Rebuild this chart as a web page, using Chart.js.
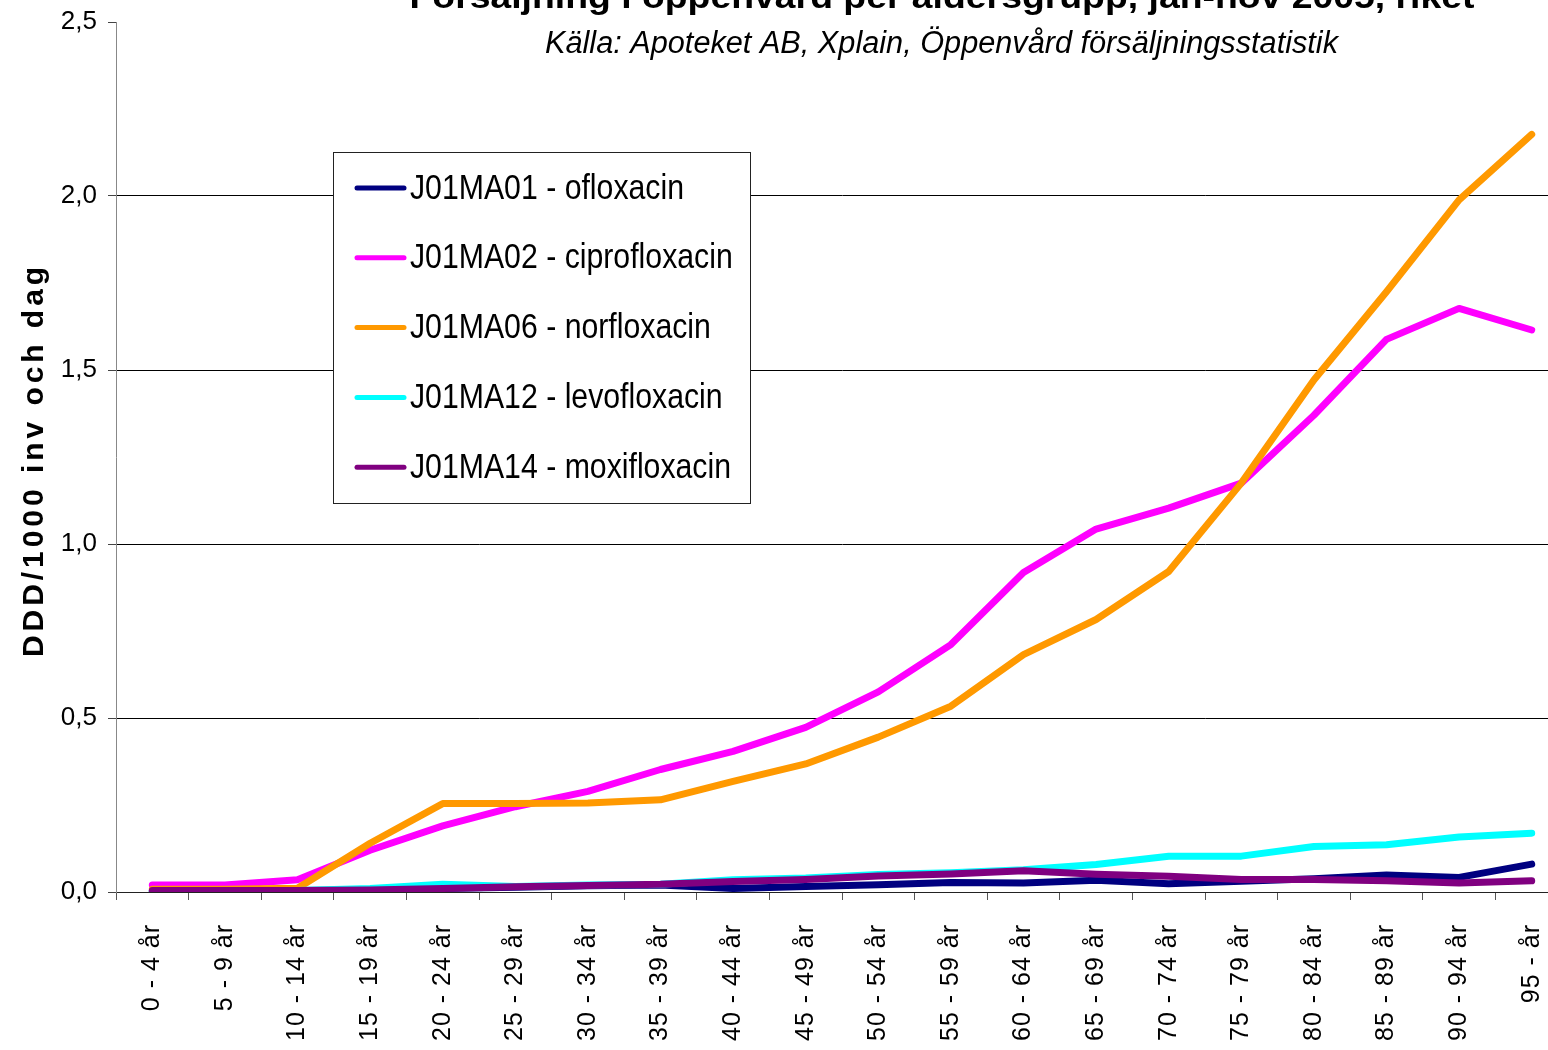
<!DOCTYPE html>
<html lang="sv">
<head>
<meta charset="utf-8">
<title>Försäljning i öppenvård per åldersgrupp</title>
<script src="https://cdn.jsdelivr.net/npm/chart.js@4.4.0/dist/chart.umd.min.js"></script>
<style>
  html, body { margin: 0; padding: 0; background: #fff; overflow: hidden; }
  #wrap { position: absolute; left: 0; top: 0; }
</style>
</head>
<body>
<div id="wrap"><canvas id="chart" width="1600" height="1100"></canvas></div>
<script>
// Age groups (x axis)
const ageGroups = [
  '0 - 4 år', '5 - 9 år', '10 - 14 år', '15 - 19 år', '20 - 24 år',
  '25 - 29 år', '30 - 34 år', '35 - 39 år', '40 - 44 år', '45 - 49 år',
  '50 - 54 år', '55 - 59 år', '60 - 64 år', '65 - 69 år', '70 - 74 år',
  '75 - 79 år', '80 - 84 år', '85 - 89 år', '90 - 94 år', '95 - år'
];

// DDD/1000 inv och dag per substance
const ofloxacin     = [0.003, 0.003, 0.004, 0.006, 0.010, 0.014, 0.018, 0.020, 0.010, 0.016, 0.021, 0.027, 0.026, 0.034, 0.024, 0.031, 0.038, 0.049, 0.042, 0.080];
const ciprofloxacin = [0.020, 0.020, 0.035, 0.120, 0.190, 0.245, 0.289, 0.352, 0.404, 0.473, 0.575, 0.711, 0.918, 1.043, 1.103, 1.175, 1.370, 1.588, 1.677, 1.615];
const norfloxacin   = [0.008, 0.008, 0.011, 0.140, 0.254, 0.254, 0.256, 0.265, 0.318, 0.368, 0.445, 0.534, 0.682, 0.783, 0.921, 1.175, 1.471, 1.725, 1.989, 2.177];
const levofloxacin  = [0.002, 0.002, 0.004, 0.010, 0.022, 0.016, 0.020, 0.022, 0.035, 0.040, 0.050, 0.055, 0.064, 0.079, 0.103, 0.103, 0.131, 0.136, 0.158, 0.169];
const moxifloxacin  = [0.004, 0.004, 0.004, 0.006, 0.010, 0.015, 0.019, 0.022, 0.030, 0.036, 0.046, 0.052, 0.061, 0.051, 0.045, 0.036, 0.036, 0.032, 0.026, 0.032];

const seriesLabels = [
  'J01MA01 - ofloxacin',
  'J01MA02 - ciprofloxacin',
  'J01MA06 - norfloxacin',
  'J01MA12 - levofloxacin',
  'J01MA14 - moxifloxacin'
];
const seriesColors = ['#000080', '#FF00FF', '#FF9900', '#00FFFF', '#800080'];

const yTicks = [0, 0.5, 1, 1.5, 2, 2.5];

const chartTitle = 'Försäljning i öppenvård per åldersgrupp, jan-nov 2005, riket';
const chartSubtitle = 'Källa: Apoteket AB, Xplain, Öppenvård försäljningsstatistik';
const yAxisTitle = 'DDD/1000 inv och dag';

const FONT = '"Liberation Sans", Arial, sans-serif';

// draw text squeezed/stretched horizontally to a given width
function drawFitted(ctx, text, x, y, font, width, align) {
  ctx.save();
  ctx.font = font;
  const k = width / ctx.measureText(text).width;
  ctx.translate(x, y);
  ctx.scale(k, 1);
  ctx.textAlign = align;
  ctx.fillText(text, 0, 0);
  ctx.restore();
}

const excelLook = {
  id: 'excelLook',
  beforeDraw(chart) {
    // x tick labels are drawn a bit spaced out
    chart.ctx.letterSpacing = '1px';
  },
  beforeDatasetsDraw(chart) {
    chart.ctx.letterSpacing = '0px';
  },
  afterDraw(chart) {
    const ctx = chart.ctx;
    ctx.save();
    ctx.letterSpacing = '0px';
    ctx.fillStyle = '#000';
    ctx.textBaseline = 'alphabetic';

    // titles (top of main title is cut off in the original)
    drawFitted(ctx, chartTitle, 942, 8, 'bold 34px ' + FONT, 1065, 'center');
    drawFitted(ctx, chartSubtitle, 941.5, 53, 'italic 31px ' + FONT, 793, 'center');

    // y axis title
    ctx.save();
    ctx.translate(35, 460);
    ctx.rotate(-Math.PI / 2);
    ctx.font = 'bold 30px ' + FONT;
    const w0 = ctx.measureText(yAxisTitle).width;
    ctx.letterSpacing = ((394 - w0) / yAxisTitle.length).toFixed(2) + 'px';
    ctx.textAlign = 'center';
    ctx.textBaseline = 'middle';
    ctx.fillText(yAxisTitle, 0, 0);
    ctx.restore();

    // legend box
    const box = { x: 333, y: 152, w: 417, h: 351 };
    ctx.fillStyle = '#fff';
    ctx.fillRect(box.x, box.y, box.w, box.h);
    ctx.strokeStyle = '#222';
    ctx.lineWidth = 1;
    ctx.strokeRect(box.x + 0.5, box.y + 0.5, box.w, box.h);

    ctx.font = '35px ' + FONT;
    const k = 274 / ctx.measureText(chart.data.datasets[0].label).width;
    chart.data.datasets.forEach((ds, i) => {
      const cy = 188 + i * 69.8;
      ctx.beginPath();
      ctx.moveTo(357, cy);
      ctx.lineTo(404, cy);
      ctx.strokeStyle = ds.borderColor;
      ctx.lineWidth = 5;
      ctx.lineCap = 'round';
      ctx.stroke();

      ctx.save();
      ctx.translate(410, cy + 1);
      ctx.scale(k, 1);
      ctx.fillStyle = '#000';
      ctx.textAlign = 'left';
      ctx.textBaseline = 'middle';
      ctx.fillText(ds.label, 0, 0);
      ctx.restore();
    });
    ctx.restore();
  }
};

const allSeries = [ofloxacin, ciprofloxacin, norfloxacin, levofloxacin, moxifloxacin];

new Chart(document.getElementById('chart'), {
  type: 'line',
  data: {
    labels: ageGroups,
    datasets: allSeries.map((values, i) => ({
      label: seriesLabels[i],
      data: values,
      borderColor: seriesColors[i],
      backgroundColor: seriesColors[i],
      borderWidth: 7,
      borderCapStyle: 'round',
      borderJoinStyle: 'round',
      pointRadius: 0,
      tension: 0,
      fill: false,
      order: allSeries.length - i // later series on top, like Excel
    }))
  },
  options: {
    responsive: false,
    animation: false,
    devicePixelRatio: 1,
    layout: { padding: { top: 22, right: 32, left: 0, bottom: 0 } },
    plugins: {
      legend: { display: false },
      tooltip: { enabled: false },
      title: { display: false }
    },
    scales: {
      x: {
        type: 'category',
        offset: true,
        grid: { offset: true, drawOnChartArea: false, drawTicks: true, tickLength: 8, tickColor: '#555' },
        border: { color: '#222', width: 1 },
        ticks: {
          autoSkip: false,
          minRotation: 90,
          maxRotation: 90,
          padding: 24,
          color: '#000',
          font: { family: FONT, size: 25 }
        },
        afterFit(scale) { scale.height = 208; }
      },
      y: {
        min: 0,
        max: 2.5,
        afterBuildTicks(scale) { scale.ticks = yTicks.map(v => ({ value: v })); },
        grid: {
          color: c => (c.tick && c.tick.value === 2.5) ? 'rgba(0,0,0,0)' : '#000',
          tickColor: '#444',
          tickLength: 8,
          lineWidth: 1
        },
        border: { color: '#888', width: 1 },
        ticks: {
          padding: 11,
          z: 1,
          color: '#000',
          // small lineHeight so the top label does not push the plot area down
          font: { family: FONT, size: 26, lineHeight: 0.6 },
          callback: v => v.toFixed(1).replace('.', ',')
        },
        afterFit(scale) { scale.width = 116; }
      }
    }
  },
  plugins: [excelLook]
});
</script>
</body>
</html>
